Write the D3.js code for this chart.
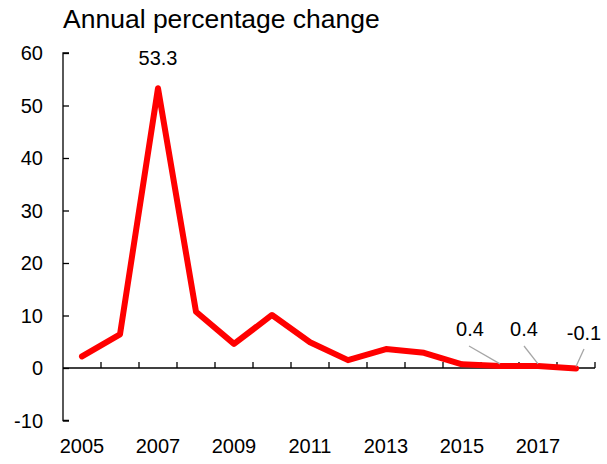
<!DOCTYPE html>
<html>
<head>
<meta charset="utf-8">
<script src="https://cdn.jsdelivr.net/npm/d3@7"></script>
<style>
  html, body { margin: 0; padding: 0; background: #fff; }
  svg { display: block; font-family: Arial, "Liberation Sans", sans-serif; }
</style>
</head>
<body>
<svg id="chart" width="607" height="464"></svg>
<script>
// Annual percentage change, 2005–2018
const years = [2005, 2006, 2007, 2008, 2009, 2010, 2011, 2012, 2013, 2014, 2015, 2016, 2017, 2018];
const values = [2.2, 6.4, 53.3, 10.7, 4.6, 10.1, 4.9, 1.5, 3.6, 2.9, 0.7, 0.4, 0.4, -0.1];
const yTicks = [-10, 0, 10, 20, 30, 40, 50, 60];
const xTickLabels = [2005, 2007, 2009, 2011, 2013, 2015, 2017];
const labelledYears = [2007, 2016, 2017, 2018];
const titleText = "Annual percentage change";

const svg = d3.select("#chart");
const plotLeft = 63, plotRight = 595, plotTop = 53, plotBottom = 420.5;

const x = d3.scaleBand().domain(years).range([plotLeft, plotRight]);
const y = d3.scaleLinear().domain([-10, 60]).range([plotBottom, plotTop]);
const cx = d => x(d) + x.bandwidth() / 2;

// Hyphen-minus for negative numbers
const fmt1 = v => v.toFixed(1);

// Title
svg.append("text")
  .attr("x", 63).attr("y", 28)
  .attr("font-size", 26.5).attr("fill", "#000")
  .text(titleText);

// Y axis with inward ticks
const yAxis = svg.append("g")
  .attr("transform", `translate(${plotLeft},0)`)
  .call(d3.axisRight(y).tickValues(yTicks).tickSize(6).tickFormat(""));
yAxis.select(".domain").attr("d", `M6,${y(-10)}H0V${y(60)}H6`).attr("stroke", "#000").attr("stroke-width", 1.3);
yAxis.selectAll(".tick line").attr("stroke", "#000").attr("stroke-width", 1.3);

// Y tick labels
svg.append("g").selectAll("text").data(yTicks).join("text")
  .attr("x", 43).attr("y", d => y(d))
  .attr("dy", "0.36em")
  .attr("text-anchor", "end")
  .attr("font-size", 20).attr("fill", "#000")
  .text(d => String(d));

// X axis along the zero line, ticks at category boundaries pointing up
const xAxisG = svg.append("g");
xAxisG.append("line")
  .attr("x1", plotLeft).attr("x2", plotRight)
  .attr("y1", y(0)).attr("y2", y(0))
  .attr("stroke", "#000").attr("stroke-width", 1.3);
xAxisG.selectAll("line.tk").data(years).join("line")
  .attr("class", "tk")
  .attr("x1", d => x(d) + x.bandwidth()).attr("x2", d => x(d) + x.bandwidth())
  .attr("y1", y(0)).attr("y2", y(0) - 6)
  .attr("stroke", "#000").attr("stroke-width", 1.3);

// X tick labels at the bottom
svg.append("g").selectAll("text").data(xTickLabels).join("text")
  .attr("x", d => cx(d)).attr("y", 453)
  .attr("text-anchor", "middle")
  .attr("font-size", 20).attr("fill", "#000")
  .text(d => d);

// Series line
const line = d3.line()
  .x((d, i) => cx(years[i]))
  .y(d => y(d));
svg.append("path")
  .datum(values)
  .attr("d", line)
  .attr("fill", "none")
  .attr("stroke", "#ff0000")
  .attr("stroke-width", 6)
  .attr("stroke-linejoin", "round")
  .attr("stroke-linecap", "round");

// Value labels (with leader lines for the small values near zero)
const labelOffsets = {
  2007: { dx: 0, ly: 65, leader: false },
  2016: { dx: -30, ly: 336, leader: true, lx: -31, lyTop: 346 },
  2017: { dx: -14, ly: 336, leader: true, lx: -14, lyTop: 346 },
  2018: { dx: 8, ly: 340, leader: true, lx: 8, lyTop: 349 }
};
const valueOf = yr => values[years.indexOf(yr)];
const lg = svg.append("g");
labelledYears.forEach(yr => {
  const o = labelOffsets[yr];
  const px = cx(yr), py = y(valueOf(yr));
  if (o.leader) {
    lg.append("line")
      .attr("x1", px + o.lx).attr("y1", o.lyTop)
      .attr("x2", px).attr("y2", py - 2)
      .attr("stroke", "#a6a6a6").attr("stroke-width", 1.3);
  }
  lg.append("text")
    .attr("x", px + o.dx).attr("y", o.ly)
    .attr("text-anchor", "middle")
    .attr("font-size", 20).attr("fill", "#000")
    .text(fmt1(valueOf(yr)));
});
</script>
</body>
</html>
